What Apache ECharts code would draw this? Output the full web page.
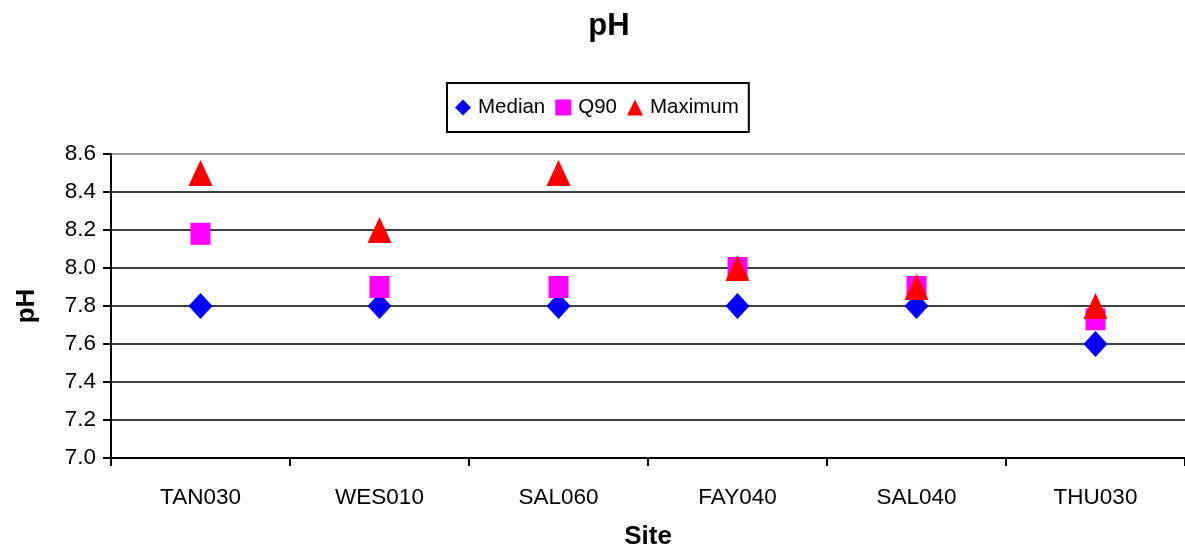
<!DOCTYPE html>
<html>
<head>
<meta charset="utf-8">
<script src="https://cdn.jsdelivr.net/npm/echarts@6/dist/echarts.min.js"></script>
<style>
  html, body { margin: 0; padding: 0; background: #fff; }
  #chart { width: 1185px; height: 555px; }
</style>
</head>
<body>
<div id="chart"></div>
<script>
  var sites = ['TAN030', 'WES010', 'SAL060', 'FAY040', 'SAL040', 'THU030'];
  var median = [7.8, 7.8, 7.8, 7.8, 7.8, 7.6];
  var q90 = [8.18, 7.9, 7.9, 8.0, 7.9, 7.73];
  var maximum = [8.5, 8.2, 8.5, 8.0, 7.9, 7.8];

  var font = '"Liberation Sans", Arial, sans-serif';

  var myChart = echarts.init(document.getElementById('chart'));
  var chartsOption = {
    animation: false,
    title: {
      text: 'pH',
      left: 604,
      top: 6,
      textAlign: 'center',
      textStyle: { fontFamily: font, fontSize: 31, fontWeight: 'bold', color: '#000' }
    },
    legend: {
      left: 447,
      top: 83,
      padding: [14, 10, 14, 8],
      itemGap: 10,
      itemWidth: 16,
      itemHeight: 16,
      borderColor: '#000',
      borderWidth: 2,
      textStyle: { fontFamily: font, fontSize: 20.5, color: '#000', padding: [0, 0, 0, 2] },
      data: [
        { name: 'Median', icon: 'diamond' },
        { name: 'Q90', icon: 'rect' },
        { name: 'Maximum', icon: 'triangle' }
      ]
    },
    grid: {
      left: 111,
      right: 0,
      top: 154,
      bottom: 97,
      outerBoundsMode: 'none',
      containLabel: false
    },
    xAxis: {
      type: 'category',
      data: sites,
      name: 'Site',
      nameLocation: 'middle',
      nameGap: 66,
      nameTextStyle: { fontFamily: font, fontSize: 26, fontWeight: 'bold', color: '#000' },
      axisLine: { lineStyle: { color: '#000', width: 2 } },
      axisTick: { show: true, length: 8, lineStyle: { color: '#000', width: 2 } },
      axisLabel: { fontFamily: font, fontSize: 22.5, color: '#000', margin: 28 },
      splitLine: { show: false }
    },
    yAxis: {
      type: 'value',
      min: 7.0,
      max: 8.6,
      interval: 0.2,
      name: 'pH',
      nameLocation: 'middle',
      nameGap: 71,
      nameTextStyle: { fontFamily: font, fontSize: 26, fontWeight: 'bold', color: '#000' },
      axisLine: { show: true, lineStyle: { color: '#000', width: 2 } },
      axisTick: { show: true, length: 8, lineStyle: { color: '#000', width: 2 } },
      axisLabel: {
        fontFamily: font, fontSize: 22.5, color: '#000', margin: 15,
        formatter: function (v) { return v.toFixed(1); }
      },
      splitLine: {
        show: true,
        lineStyle: {
          color: ['#000', '#000', '#000', '#000', '#000', '#000', '#000', '#000', '#808080'],
          width: 1.5
        }
      }
    },
    series: [
      {
        name: 'Median',
        type: 'scatter',
        symbol: 'diamond',
        symbolSize: [24, 26],
        itemStyle: { color: '#0000ff', opacity: 1 },
        data: median,
        z: 2
      },
      {
        name: 'Q90',
        type: 'scatter',
        symbol: 'rect',
        symbolSize: [20, 22],
        itemStyle: { color: '#ff00ff', opacity: 1 },
        data: q90,
        z: 3
      },
      {
        name: 'Maximum',
        type: 'scatter',
        symbol: 'triangle',
        symbolSize: [24, 26],
        itemStyle: { color: '#ff0000', opacity: 1 },
        data: maximum,
        z: 4
      }
    ]
  };
  chartsOption && myChart.setOption(chartsOption, true);
</script>
</body>
</html>
